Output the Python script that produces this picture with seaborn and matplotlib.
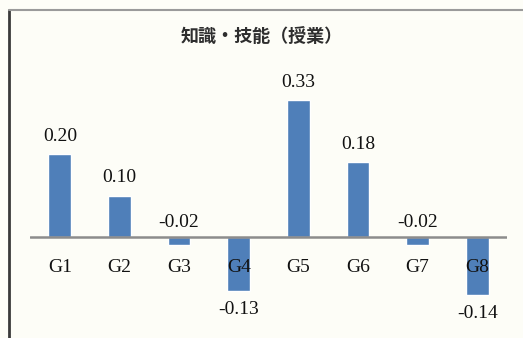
import matplotlib
matplotlib.use("Agg")
import matplotlib.pyplot as plt
import seaborn as sns
import pandas as pd
from matplotlib.lines import Line2D

categories = ["G1", "G2", "G3", "G4", "G5", "G6", "G7", "G8"]
values = [0.20, 0.10, -0.02, -0.13, 0.33, 0.18, -0.02, -0.14]
value_labels = ["0.20", "0.10", "-0.02", "-0.13", "0.33", "0.18", "-0.02", "-0.14"]
title = "知識・技能（授業）"

df = pd.DataFrame({"group": categories, "value": values})

sns.set_theme(style="white")
plt.rcParams['font.family'] = ['Liberation Serif', 'DejaVu Serif']

bg = "#fdfdf7"
fig = plt.figure(figsize=(5.23, 3.38), dpi=100, facecolor=bg)
W, H = 523, 338
ax = fig.add_axes([30 / W, (H - 320) / H, 477 / W, 249 / H])
ax.set_facecolor(bg)

sns.barplot(data=df, x="group", y="value", color="#4f7fb9", saturation=1,
            width=0.38, ax=ax, zorder=2)
ax.set_xlim(-0.5, 7.5)
ax.set_ylim(-0.2, 0.4)
ax.axhline(0, color="#8c8c8c", lw=1.8, zorder=3)
for s in ax.spines.values():
    s.set_visible(False)
ax.set_xticks([])
ax.set_yticks([])
ax.set_xlabel("")
ax.set_ylabel("")

fs = 14
tc = "#111111"
for i, (v, lab) in enumerate(zip(values, value_labels)):
    if v >= 0:
        ax.annotate(lab, (i, v), xytext=(0, 9), textcoords="offset pixels",
                    ha="center", va="bottom", fontsize=fs, color=tc)
    elif v > -0.05:
        ax.annotate(lab, (i, 0), xytext=(0, 6), textcoords="offset pixels",
                    ha="center", va="bottom", fontsize=fs, color=tc)
    else:
        ax.annotate(lab, (i, v), xytext=(0, -10), textcoords="offset pixels",
                    ha="center", va="top", fontsize=fs, color=tc)
    ax.annotate(categories[i], (i, 0), xytext=(0, -30), textcoords="offset pixels",
                ha="center", va="center", fontsize=fs, color=tc, zorder=5)

fig.text(262 / W, 1 - 36 / H, title, ha="center", va="center", fontsize=13,
         fontweight="bold", color="#2e2e2e",
         family=["Noto Sans CJK JP", "DejaVu Sans"])

# outer frame (scanned chart border)
fig.add_artist(Line2D([9 / W, 9 / W], [0, 1 - 10 / H], transform=fig.transFigure,
                      color="#3a3a3a", lw=2))
fig.add_artist(Line2D([9 / W, 1], [1 - 10 / H, 1 - 10 / H], transform=fig.transFigure,
                      color="#9a9a9a", lw=1.5))

fig.savefig("out.png", dpi=100, facecolor=bg)
